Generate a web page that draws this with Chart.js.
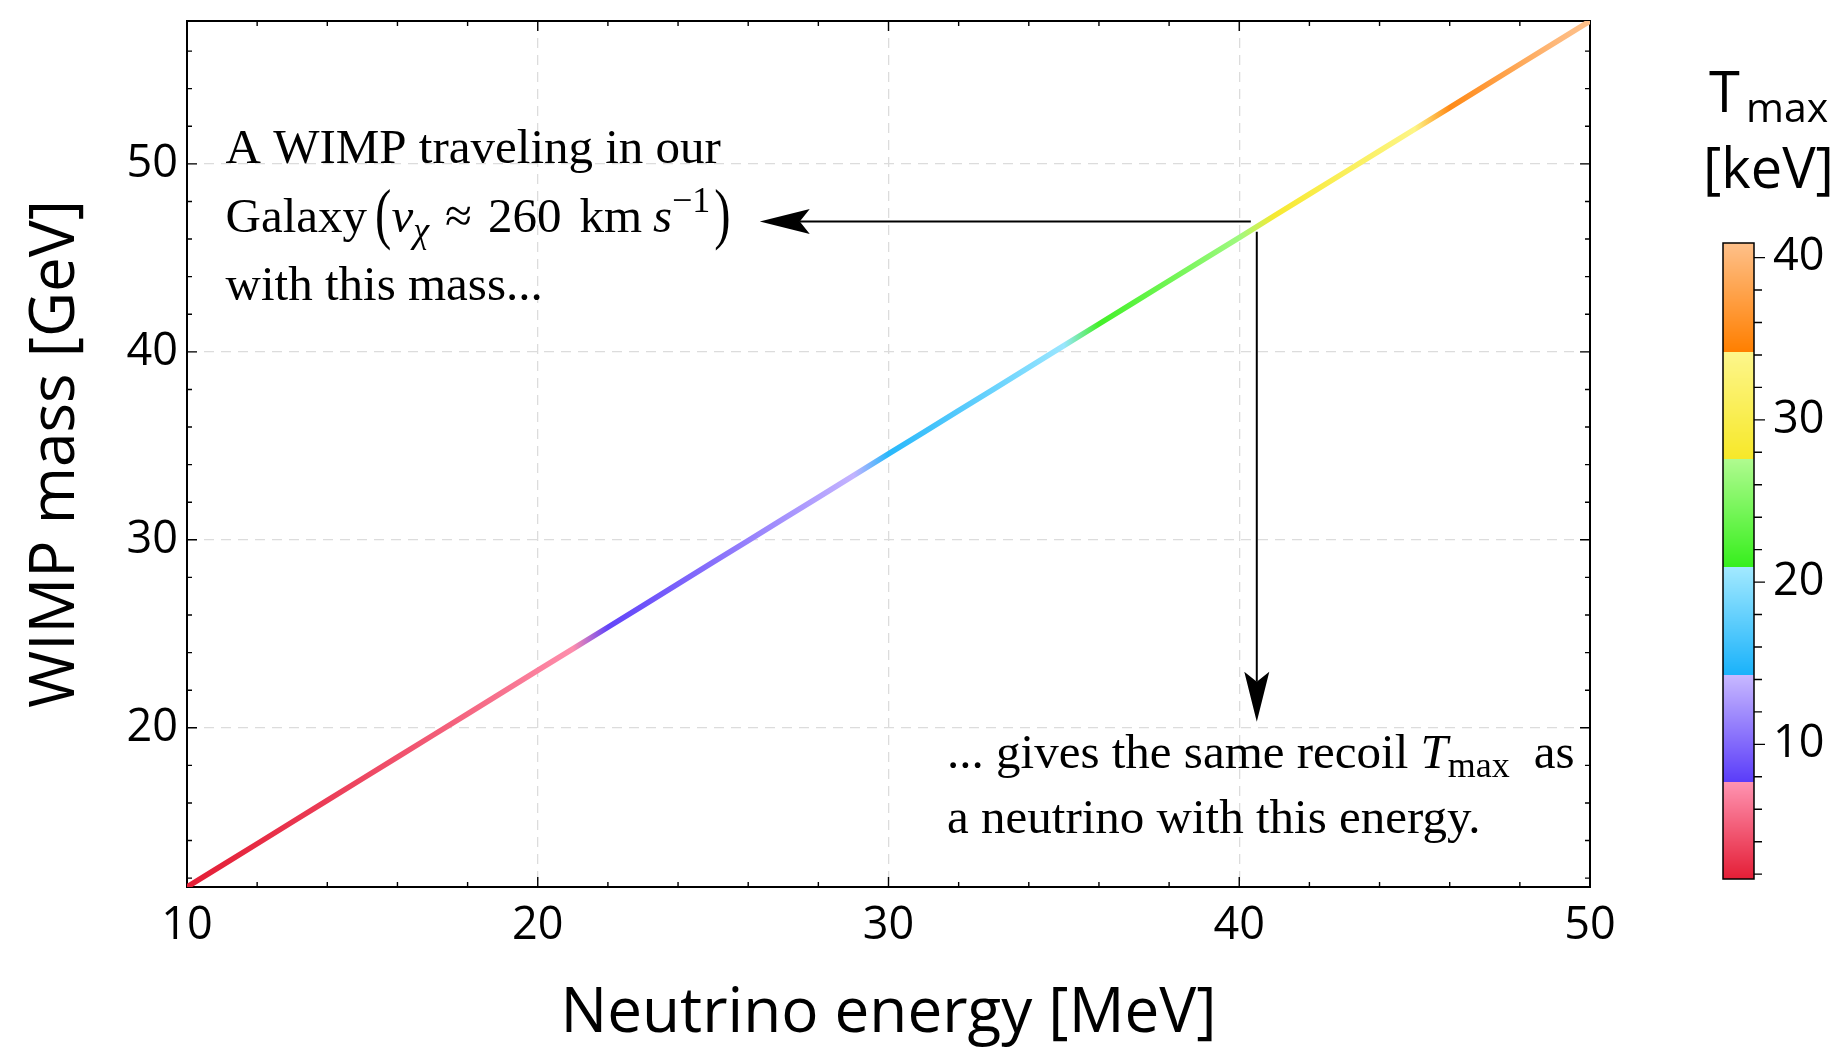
<!DOCTYPE html>
<html>
<head>
<meta charset="utf-8">
<title>WIMP mass vs neutrino energy</title>
<script src="https://cdn.jsdelivr.net/npm/chart.js@4.4.1/dist/chart.umd.min.js"></script>
<style>
  html, body { margin: 0; padding: 0; background: #fff; }
</style>
</head>
<body>
<canvas id="myChart" width="1836" height="1052"></canvas>
<script>
// neutrino energy [MeV]
let energies = [10, 11, 12, 13, 14, 15, 16, 17, 18, 19, 20, 21, 22, 23, 24, 25, 26, 27, 28, 29, 30,
                31, 32, 33, 34, 35, 36, 37, 38, 39, 40, 41, 42, 43, 44, 45, 46, 47, 48, 49, 50];
// WIMP mass [GeV] with the same recoil
let masses = [11.53, 12.68, 13.83, 14.99, 16.14, 17.29, 18.44, 19.59, 20.74, 21.90, 23.05,
              24.20, 25.35, 26.50, 27.66, 28.81, 29.96, 31.11, 32.26, 33.41, 34.57,
              35.72, 36.87, 38.02, 39.17, 40.33, 41.48, 42.63, 43.78, 44.93, 46.08,
              47.24, 48.39, 49.54, 50.69, 51.84, 52.99, 54.15, 55.30, 56.45, 57.60];
// T_max [keV] along the curve
let tmax = [1.7, 2.0, 2.4, 2.8, 3.3, 3.8, 4.3, 4.8, 5.4, 6.0, 6.7, 7.4, 8.1, 8.8, 9.6, 10.4, 11.3, 12.2,
            13.1, 14.0, 15.0, 16.1, 17.1, 18.2, 19.3, 20.5, 21.6, 22.9, 24.1, 25.4, 26.7, 28.1, 29.5,
            30.9, 32.3, 33.8, 35.3, 36.9, 38.5, 40.1, 41.8];

// tick labels
let xTicks = [10, 20, 30, 40, 50];
let yTicks = [20, 30, 40, 50];
let cbTicks = [10, 20, 30, 40];

// colour bands of the T_max legend (edges in keV)
let bandEdges = [1.7, 7.7, 14.3, 20.9, 27.6, 34.2, 40.9];
let bandLow = ['#e41e36', '#5b3df9', '#1ab2fa', '#36ef1c', '#f7e829', '#ff7f00'];
let bandHigh = ['#ff94b2', '#c8b9ff', '#a2e9ff', '#b0fb90', '#fdf68c', '#fec08a'];

function hexToRgb(h) {
  return [parseInt(h.slice(1, 3), 16), parseInt(h.slice(3, 5), 16), parseInt(h.slice(5, 7), 16)];
}

function colorFor(t) {
  t = Math.max(bandEdges[0], Math.min(bandEdges[bandEdges.length - 1], t));
  let i = 0;
  while (i < bandLow.length - 1 && t >= bandEdges[i + 1]) i++;
  const f = (t - bandEdges[i]) / (bandEdges[i + 1] - bandEdges[i]);
  const a = hexToRgb(bandLow[i]), b = hexToRgb(bandHigh[i]);
  return 'rgb(' + a.map((c, k) => Math.round(c + (b[k] - c) * f)).join(',') + ')';
}

// kleurverloop langs de lijn, per punt de kleur van T_max
function lineGradient(context) {
  const chart = context.chart;
  const {ctx, chartArea, scales} = chart;
  if (!chartArea || !scales.x) return bandLow[0];
  const x0 = scales.x.getPixelForValue(energies[0]);
  const x1 = scales.x.getPixelForValue(energies[energies.length - 1]);
  const g = ctx.createLinearGradient(x0, 0, x1, 0);
  energies.forEach((e, i) => {
    g.addColorStop((scales.x.getPixelForValue(e) - x0) / (x1 - x0), colorFor(tmax[i]));
  });
  return g;
}

const R = '49px "Liberation Serif"';
const I = 'italic 49px "Liberation Serif"';
const S = '36px "Liberation Serif"';
const SI = 'italic 36px "Liberation Serif"';

function drawRich(ctx, x, y, parts) {
  parts.forEach(p => {
    if (p.gap) { x += p.gap; return; }
    ctx.font = p.font;
    const w = ctx.measureText(p.t).width;
    if (p.sy) {
      ctx.save();
      ctx.translate(x, y - 12);
      ctx.scale(1, p.sy);
      ctx.fillText(p.t, 0, 12);
      ctx.restore();
    } else {
      ctx.fillText(p.t, x, y + (p.dy || 0));
    }
    x += w;
  });
}

function arrow(ctx, x1, y1, x2, y2) {
  const len = Math.hypot(x2 - x1, y2 - y1);
  const ux = (x2 - x1) / len, uy = (y2 - y1) / len;
  const head = 50, half = 12.5, notch = 40;
  ctx.beginPath();
  ctx.moveTo(x1, y1);
  ctx.lineTo(x2 - ux * notch, y2 - uy * notch);
  ctx.stroke();
  ctx.beginPath();
  ctx.moveTo(x2, y2);
  ctx.lineTo(x2 - ux * head - uy * half, y2 - uy * head + ux * half);
  ctx.lineTo(x2 - ux * notch, y2 - uy * notch);
  ctx.lineTo(x2 - ux * head + uy * half, y2 - uy * head - ux * half);
  ctx.closePath();
  ctx.fill();
}

// kader met kleine streepjes aan alle vier kanten
const frame = {
  id: 'frame',
  beforeDatasetsDraw(chart) {
    const {ctx, chartArea: a, scales: {x, y}} = chart;
    ctx.save();
    ctx.strokeStyle = '#000';
    ctx.lineWidth = 1.4;
    ctx.beginPath();
    for (let v = 10; v <= 50; v += 2) {
      const px = x.getPixelForValue(v);
      const len = v % 10 === 0 ? 10 : 5;
      ctx.moveTo(px, a.bottom); ctx.lineTo(px, a.bottom - len);
      ctx.moveTo(px, a.top); ctx.lineTo(px, a.top + len);
    }
    for (let v = 12; v <= 56; v += 2) {
      const py = y.getPixelForValue(v);
      const len = v % 10 === 0 ? 10 : 5;
      ctx.moveTo(a.left, py); ctx.lineTo(a.left + len, py);
      ctx.moveTo(a.right, py); ctx.lineTo(a.right - len, py);
    }
    ctx.stroke();
    ctx.lineWidth = 2;
    ctx.strokeRect(a.left, a.top, a.right - a.left, a.bottom - a.top);
    ctx.restore();
  }
};

// pijlen en uitleg in de grafiek
const notes = {
  id: 'notes',
  afterDatasetsDraw(chart) {
    const {ctx, scales: {x, y}} = chart;
    ctx.save();
    ctx.fillStyle = '#000';
    ctx.strokeStyle = '#000';
    ctx.lineWidth = 2;
    arrow(ctx, x.getPixelForValue(40.33), y.getPixelForValue(46.93), x.getPixelForValue(26.33), y.getPixelForValue(46.93));
    arrow(ctx, x.getPixelForValue(40.5), y.getPixelForValue(46.39), x.getPixelForValue(40.5), y.getPixelForValue(20.32));

    ctx.textBaseline = 'alphabetic';
    ctx.textAlign = 'left';
    const tx = x.getPixelForValue(11.1), ty = y.getPixelForValue(50.05);
    ctx.font = R;
    ctx.fillText('A WIMP traveling in our', tx, ty);
    drawRich(ctx, tx, ty + 69, [
      {t: 'Galaxy', font: R}, {gap: 8}, {t: '(', font: R, sy: 1.38},
      {t: 'v', font: I}, {t: 'χ', font: SI, dy: 10}, {gap: 16},
      {t: '≈', font: R}, {gap: 16}, {t: '260', font: R}, {gap: 18},
      {t: 'km', font: R}, {gap: 11}, {t: 's', font: I}, {t: '−1', font: S, dy: -20},
      {gap: 4}, {t: ')', font: R, sy: 1.38}
    ]);
    ctx.font = R;
    ctx.fillText('with this mass...', tx, ty + 137);

    const bx = x.getPixelForValue(31.67), by = y.getPixelForValue(17.87);
    drawRich(ctx, bx, by, [
      {t: '... gives the same recoil ', font: R}, {t: 'T', font: I},
      {t: 'max', font: S, dy: 9}, {gap: 24}, {t: 'as', font: R}
    ]);
    ctx.font = R;
    ctx.fillText('a neutrino with this energy.', bx, by + 65);
    ctx.restore();
  }
};

// kleurenbalk voor T_max rechts
const colorbar = {
  id: 'colorbar',
  afterDraw(chart) {
    const ctx = chart.ctx;
    const left = 1723, right = 1754, top = 243, bottom = 879;
    const lo = bandEdges[0], hi = bandEdges[bandEdges.length - 1];
    const py = v => bottom - (v - lo) / (hi - lo) * (bottom - top);
    ctx.save();
    for (let yy = top; yy < bottom; yy++) {
      const v = lo + (bottom - yy - 0.5) / (bottom - top) * (hi - lo);
      ctx.fillStyle = colorFor(v);
      ctx.fillRect(left, yy, right - left, 1);
    }
    ctx.strokeStyle = '#000';
    ctx.lineWidth = 1.5;
    ctx.strokeRect(left, top, right - left, bottom - top);
    ctx.lineWidth = 1.4;
    ctx.beginPath();
    for (let v = 2; v <= 40; v += 2) {
      const y = py(v);
      ctx.moveTo(right, y);
      ctx.lineTo(right + (v % 10 === 0 ? 11 : 8), y);
    }
    ctx.stroke();
    ctx.fillStyle = '#000';
    ctx.font = '45px "Open Sans"';
    ctx.textAlign = 'left';
    ctx.textBaseline = 'middle';
    cbTicks.forEach(v => ctx.fillText(String(v), 1773, py(v)));
    ctx.textBaseline = 'alphabetic';
    ctx.font = '56px "Open Sans"';
    ctx.fillText('T', 1709, 112);
    ctx.font = '41px "Open Sans"';
    ctx.fillText('max', 1746, 122);
    ctx.font = '56px "Open Sans"';
    ctx.fillText('[keV]', 1703, 188);
    ctx.restore();
  }
};

let myChart = document.getElementById('myChart').getContext('2d');

let chart = new Chart(myChart, {
  type: 'line',
  data: {
    datasets: [{
      data: energies.map((e, i) => ({x: e, y: masses[i]})),
      borderColor: lineGradient,
      borderWidth: 5.5,
      pointRadius: 0,
      tension: 0,
      fill: false
    }]
  },
  options: {
    responsive: false,
    animation: false,
    devicePixelRatio: 1,
    layout: { padding: { left: 0, right: 246, top: 21, bottom: 0 } },
    plugins: { legend: { display: false }, tooltip: { enabled: false } },
    scales: {
      x: {
        type: 'linear',
        min: 10,
        max: 50,
        afterBuildTicks: s => { s.ticks = xTicks.map(v => ({value: v})); },
        afterFit: s => { s.height = 165; s.paddingLeft = 0; s.paddingRight = 0; },
        ticks: { font: { family: 'Open Sans', size: 45 }, color: '#000', padding: 12 },
        grid: {
          drawTicks: false,
          lineWidth: 1.3,
          color: c => (c.tick && (c.tick.value === 10 || c.tick.value === 50)) ? 'rgba(0,0,0,0)' : '#dcdcdc'
        },
        border: { display: false, dash: [10, 7] },
        title: {
          display: true,
          text: 'Neutrino energy [MeV]',
          font: { family: 'Open Sans', size: 62 },
          color: '#000',
          padding: { top: 0, bottom: 0 }
        }
      },
      y: {
        type: 'linear',
        min: 11.53,
        max: 57.6,
        afterBuildTicks: s => { s.ticks = yTicks.map(v => ({value: v})); },
        afterFit: s => { s.width = 187; s.paddingTop = 0; s.paddingBottom = 0; },
        ticks: { font: { family: 'Open Sans', size: 45 }, color: '#000', padding: 9 },
        grid: { drawTicks: false, lineWidth: 1.3, color: '#dcdcdc' },
        border: { display: false, dash: [10, 7] },
        title: {
          display: true,
          text: 'WIMP mass [GeV]',
          font: { family: 'Open Sans', size: 62 },
          color: '#000',
          padding: { top: 19, bottom: 0 }
        }
      }
    }
  },
  plugins: [frame, notes, colorbar]
});
</script>
</body>
</html>
